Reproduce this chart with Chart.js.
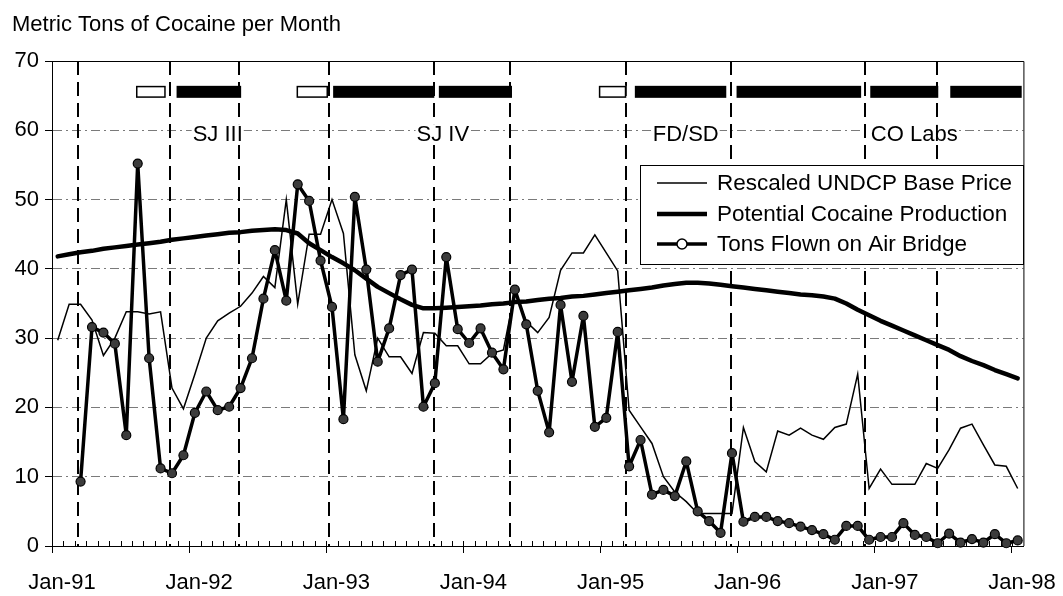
<!DOCTYPE html>
<html>
<head>
<meta charset="utf-8">
<script src="https://cdn.jsdelivr.net/npm/chart.js@4.4.1/dist/chart.umd.min.js"></script>
<style>
  html, body { margin: 0; padding: 0; background: #fff; }
</style>
</head>
<body>
<canvas id="myChart" width="1063" height="596"></canvas>
<script>
// months counted from Jan-91, one unit per month, values sit in the middle of their month
var tickLabels = ['Jan-91', 'Jan-92', 'Jan-93', 'Jan-94', 'Jan-95', 'Jan-96', 'Jan-97', 'Jan-98'];
var tickMonths = [0, 12, 24, 36, 48, 60, 72, 84];

var basePrice = [29.7, 34.9, 34.9, 32.6, 27.5, 30.0, 33.8, 33.8, 33.5, 33.8,
  22.8, 19.8, 24.8, 30.0, 32.5, 33.6, 34.6, 36.5, 38.9, 37.3,
  50.0, 34.9, 45.0, 45.0, 50.0, 45.1, 27.6, 22.4, 30.0, 27.3,
  27.3, 24.9, 30.8, 30.7, 28.9, 28.9, 26.3, 26.3, 27.8, 28.3,
  36.7, 32.4, 30.8, 33.0, 39.8, 42.3, 42.3, 44.9, 42.3, 39.7,
  19.6, 17.2, 14.8, 10.0, 7.8, 6.4, 4.7, 4.7, 4.7, 4.7,
  17.1, 12.2, 10.7, 16.6, 16.0, 17.0, 16.0, 15.4, 17.1, 17.6,
  24.8, 8.3, 11.1, 8.9, 8.9, 8.9, 11.9, 11.2, 13.9, 17.0,
  17.6, 14.6, 11.7, 11.5, 8.3];

var production = [41.8, 42.1, 42.4, 42.6, 42.9, 43.1, 43.3, 43.5, 43.7, 43.9,
  44.2, 44.4, 44.6, 44.8, 45.0, 45.2, 45.3, 45.5, 45.6, 45.7,
  45.6, 45.1, 43.7, 42.7, 41.7, 40.8, 39.8, 38.6, 37.4, 36.5,
  35.6, 34.8, 34.3, 34.3, 34.4, 34.5, 34.6, 34.7, 34.9, 35.0,
  35.2, 35.3, 35.5, 35.7, 35.8, 36.0, 36.1, 36.3, 36.5, 36.7,
  36.9, 37.1, 37.3, 37.6, 37.8, 38.0, 38.0, 37.9, 37.7, 37.5,
  37.3, 37.1, 36.9, 36.7, 36.5, 36.3, 36.2, 36.0, 35.7, 35.0,
  34.1, 33.3, 32.5, 31.8, 31.1, 30.4, 29.7, 29.0, 28.3, 27.4,
  26.7, 26.1, 25.4, 24.8, 24.2];

var airBridge = [null, null, 9.3, 31.6, 30.8, 29.2, 16.0, 55.2, 27.1, 11.2,
  10.5, 13.1, 19.2, 22.3, 19.6, 20.1, 22.8, 27.1, 35.7, 42.7,
  35.4, 52.2, 49.8, 41.2, 34.5, 18.3, 50.4, 39.9, 26.6, 31.4,
  39.1, 39.9, 20.1, 23.5, 41.7, 31.3, 29.3, 31.4, 27.9, 25.5,
  37.0, 32.0, 22.4, 16.4, 34.8, 23.7, 33.2, 17.2, 18.5, 30.9,
  11.5, 15.3, 7.4, 8.1, 7.2, 12.2, 5.0, 3.6, 1.9, 13.4,
  3.5, 4.2, 4.2, 3.6, 3.3, 2.8, 2.3, 1.7, 0.9, 2.9,
  2.9, 0.9, 1.3, 1.3, 3.3, 1.6, 1.3, 0.4, 1.8, 0.5,
  1.0, 0.5, 1.7, 0.4, 0.8];

// operations: dashed markers, planning (open) and active (filled) periods
var eventLines = [2.25, 10.35, 16.35, 24.25, 33.45, 40.05, 50.25, 59.45, 71.1, 77.45];
var barStart = [7.35, 10.9, 21.4, 24.6, 33.85, 47.85, 51.0, 59.9, 71.6, 78.6];
var barEnd = [9.95, 16.55, 24.15, 33.45, 40.25, 50.25, 59.0, 70.8, 77.55, 84.85];
var barSolid = [false, true, false, true, true, false, true, true, true, true];
var opNames = ['SJ III', 'SJ IV', 'FD/SD', 'CO Labs'];
var opNameAt = [14.5, 34.2, 55.45, 75.45];

function toPoints(arr) {
  return arr.map(function (v, i) { return { x: i + 0.5, y: v }; });
}

var FONT = '"Liberation Sans", Arial, Helvetica, sans-serif';
Chart.defaults.font.family = FONT;
Chart.defaults.font.size = 22;
Chart.defaults.color = '#000';

var extras = {
  id: 'extras',
  beforeDatasetsDraw: function (chart) {
    var ctx = chart.ctx, xs = chart.scales.x, ys = chart.scales.y, a = chart.chartArea;
    ctx.save();
    ctx.strokeStyle = '#000';
    ctx.lineWidth = 1;
    // small month ticks inside the axis
    for (var m = 1; m < 85; m++) {
      var mx = Math.round(xs.getPixelForValue(m)) + 0.5;
      ctx.beginPath(); ctx.moveTo(mx, a.bottom); ctx.lineTo(mx, a.bottom - 5); ctx.stroke();
    }
    // dashed event lines
    ctx.lineWidth = 2;
    ctx.setLineDash([14, 7]);
    eventLines.forEach(function (v) {
      var px = Math.round(xs.getPixelForValue(v));
      ctx.beginPath(); ctx.moveTo(px, a.top); ctx.lineTo(px, a.bottom); ctx.stroke();
    });
    ctx.setLineDash([]);
    // period bars near the top
    var by = ys.getPixelForValue(65.55);
    barStart.forEach(function (s, k) {
      var x0 = xs.getPixelForValue(s), x1 = xs.getPixelForValue(barEnd[k]);
      if (barSolid[k]) {
        ctx.fillStyle = '#000';
        ctx.fillRect(x0, by - 6, x1 - x0, 12);
      } else {
        ctx.fillStyle = '#fff';
        ctx.fillRect(x0, by - 6, x1 - x0, 12);
        ctx.lineWidth = 1.5;
        ctx.strokeRect(x0 + 0.75, by - 5.25, x1 - x0 - 1.5, 10.5);
      }
    });
    // operation names
    ctx.font = '22px ' + FONT;
    ctx.textAlign = 'center';
    ctx.textBaseline = 'middle';
    var ny = ys.getPixelForValue(59.45);
    opNames.forEach(function (t, k) {
      var px = xs.getPixelForValue(opNameAt[k]);
      var w = ctx.measureText(t).width;
      ctx.fillStyle = '#fff';
      ctx.fillRect(px - w / 2 - 1, ny - 10, w + 2, 20);
      ctx.fillStyle = '#000';
      ctx.fillText(t, px, ny + 1);
    });
    ctx.restore();
  },
  afterDatasetsDraw: function (chart) {
    var ctx = chart.ctx, a = chart.chartArea;
    ctx.save();
    // frame
    ctx.strokeStyle = '#000';
    ctx.lineWidth = 1;
    ctx.beginPath();
    ctx.moveTo(a.left, a.top + 0.5); ctx.lineTo(a.right + 0.5, a.top + 0.5); ctx.lineTo(a.right + 0.5, a.bottom);
    ctx.stroke();
    // legend box
    var lx = a.left + 588, ly = a.top + 104, lw = 383, lh = 99;
    ctx.fillStyle = '#fff';
    ctx.fillRect(lx, ly, lw, lh);
    ctx.strokeRect(lx + 0.5, ly + 0.5, lw, lh);
    var rows = [18, 49, 79];
    ctx.font = '22.5px ' + FONT;
    ctx.textAlign = 'left';
    ctx.textBaseline = 'middle';
    chart.data.datasets.forEach(function (ds, k) {
      var ry = ly + rows[k];
      ctx.lineWidth = ds.borderWidth;
      ctx.beginPath(); ctx.moveTo(lx + 17, ry); ctx.lineTo(lx + 67, ry); ctx.stroke();
      if (ds.pointRadius > 0) {
        ctx.lineWidth = 1.5;
        ctx.fillStyle = '#fff';
        ctx.beginPath(); ctx.arc(lx + 42, ry, 5, 0, Math.PI * 2); ctx.fill(); ctx.stroke();
      }
      ctx.fillStyle = '#000';
      ctx.fillText(ds.label, lx + 77, ry + 1);
    });
    ctx.restore();
  }
};

var ctx = document.getElementById('myChart');
var myChart = new Chart(ctx, {
  type: 'line',
  data: {
    datasets: [{
      label: 'Rescaled UNDCP Base Price',
      data: toPoints(basePrice),
      borderColor: '#000',
      borderWidth: 1.5,
      pointRadius: 0,
      order: 2
    }, {
      label: 'Potential Cocaine Production',
      data: toPoints(production),
      borderColor: '#000',
      borderWidth: 4.5,
      borderJoinStyle: 'round',
      borderCapStyle: 'round',
      pointRadius: 0,
      order: 1
    }, {
      label: 'Tons Flown on Air Bridge',
      data: toPoints(airBridge),
      borderColor: '#000',
      borderWidth: 3.5,
      borderJoinStyle: 'round',
      borderCapStyle: 'round',
      pointRadius: 4.5,
      pointBackgroundColor: '#3c3c3c',
      pointBorderColor: '#000',
      pointBorderWidth: 1.2,
      spanGaps: false,
      clip: 8,
      order: 0
    }]
  },
  options: {
    responsive: false,
    animation: false,
    events: [],
    layout: { padding: { left: 12, right: 33, top: 0, bottom: 0 } },
    plugins: {
      legend: { display: false },
      tooltip: { enabled: false },
      title: {
        display: true,
        text: 'Metric Tons of Cocaine per Month',
        align: 'start',
        color: '#000',
        font: { size: 22, weight: 'normal' },
        padding: { top: 12, bottom: 22.6 }
      }
    },
    scales: {
      x: {
        type: 'linear',
        min: 0,
        max: 85,
        afterBuildTicks: function (scale) {
          scale.ticks = tickMonths.map(function (v) { return { value: v }; });
        },
        afterFit: function (scale) { scale.height = 50; },
        ticks: {
          callback: function (v, i) { return tickLabels[i]; },
          autoSkip: false,
          maxRotation: 0,
          labelOffset: 10,
          padding: 17,
          color: '#000'
        },
        grid: {
          drawOnChartArea: false,
          tickLength: 7,
          tickColor: '#000',
          tickWidth: 1
        },
        border: { color: '#000', width: 1 }
      },
      y: {
        min: 0,
        max: 70,
        afterFit: function (scale) { scale.width = 40; },
        ticks: { stepSize: 10, padding: 6, color: '#000' },
        grid: {
          color: function (c) {
            return (c.tick && (c.tick.value === 0 || c.tick.value === 70)) ? 'rgba(0,0,0,0)' : '#7a7a7a';
          },
          lineWidth: 1,
          tickLength: 7,
          tickColor: '#000',
          tickBorderDash: [1, 0]
        },
        border: { color: '#000', width: 1, dash: [9, 4, 2, 4] }
      }
    }
  },
  plugins: [extras]
});
</script>
</body>
</html>
